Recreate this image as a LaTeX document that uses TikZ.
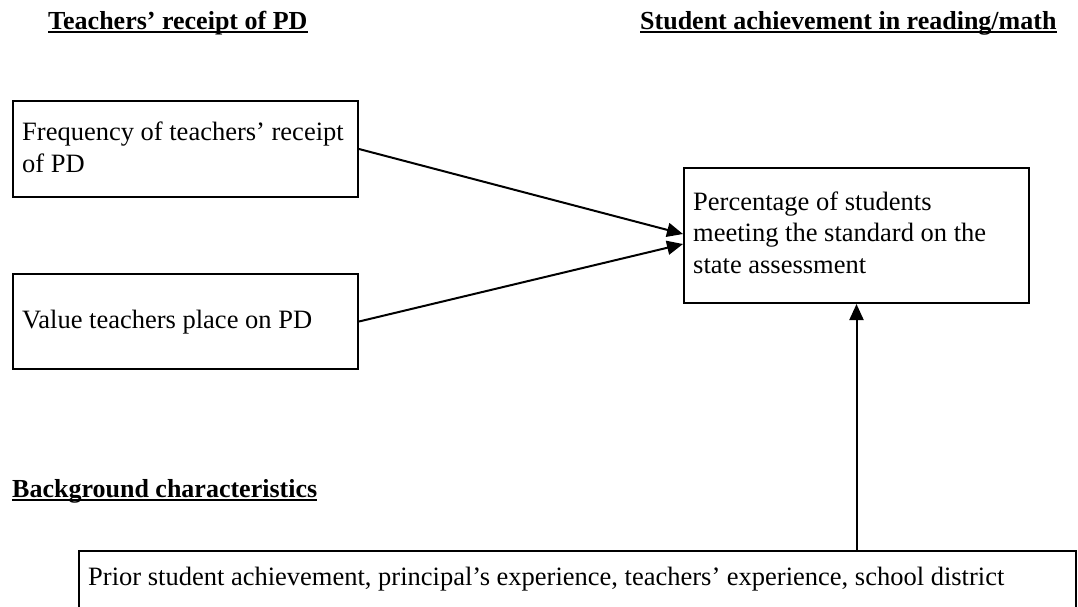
\documentclass[tikz,border=0pt]{standalone}
\usepackage{fontspec}
\setmainfont{Liberation Serif}
\usetikzlibrary{arrows.meta,calc}
\begin{document}
\begin{tikzpicture}[x=1pt,y=-1pt,
  box/.style={draw,line width=2pt,inner sep=0pt,anchor=north west},
  txt/.style={inner sep=0pt,anchor=base west,align=left,font=\fontsize{26.5}{31.5}\selectfont},
  ttl/.style={inner sep=0pt,anchor=base west,font=\fontsize{26}{32}\selectfont\bfseries},
  arr/.style={line width=2pt,-{Triangle[length=16pt,width=14pt]}},
  ul/.style={line width=2pt}]
\useasboundingbox (0,0) rectangle (1078,606);
\clip (0,0) rectangle (1078,606);
% boxes
\node[box,minimum width=345pt,minimum height=96pt] (b1) at (12,100) {};
\node[box,minimum width=345pt,minimum height=95pt] (b2) at (12,273) {};
\node[box,minimum width=345pt,minimum height=135pt] (b3) at (683,167) {};
\node[box,minimum width=997pt,minimum height=80pt] (b4) at (78,550) {};
% texts (base = baseline of the last line)
\node[txt] (t1) at (22,172) {Frequency of teachers' receipt\\of PD};
\node[txt] (t2) at (22,328) {Value teachers place on PD};
\node[txt] (t3) at (693,273) {Percentage of students\\meeting the standard on the\\state assessment};
\node[txt] (t4) at (88,585) {Prior student achievement, principal's experience, teachers' experience, school district};
% headings
\node[ttl] (h1) at (48,29) {Teachers' receipt of PD};
\node[ttl] (h2) at (640,29) {Student achievement in reading/math};
\node[ttl] (h3) at (12,497) {Background characteristics};
\foreach \h in {h1,h2,h3}
  \draw[ul] ([yshift=-3pt]\h.base west) -- ([yshift=-3pt]\h.base east);
% arrows
\draw[arr] (b1.east) -- ([yshift=1.5pt]b3.west);
\draw[arr] (b2.east) -- ([yshift=-8.5pt]b3.west);
\draw[arr] (b3.south |- b4.north) -- (b3.south);
\end{tikzpicture}
\end{document}
